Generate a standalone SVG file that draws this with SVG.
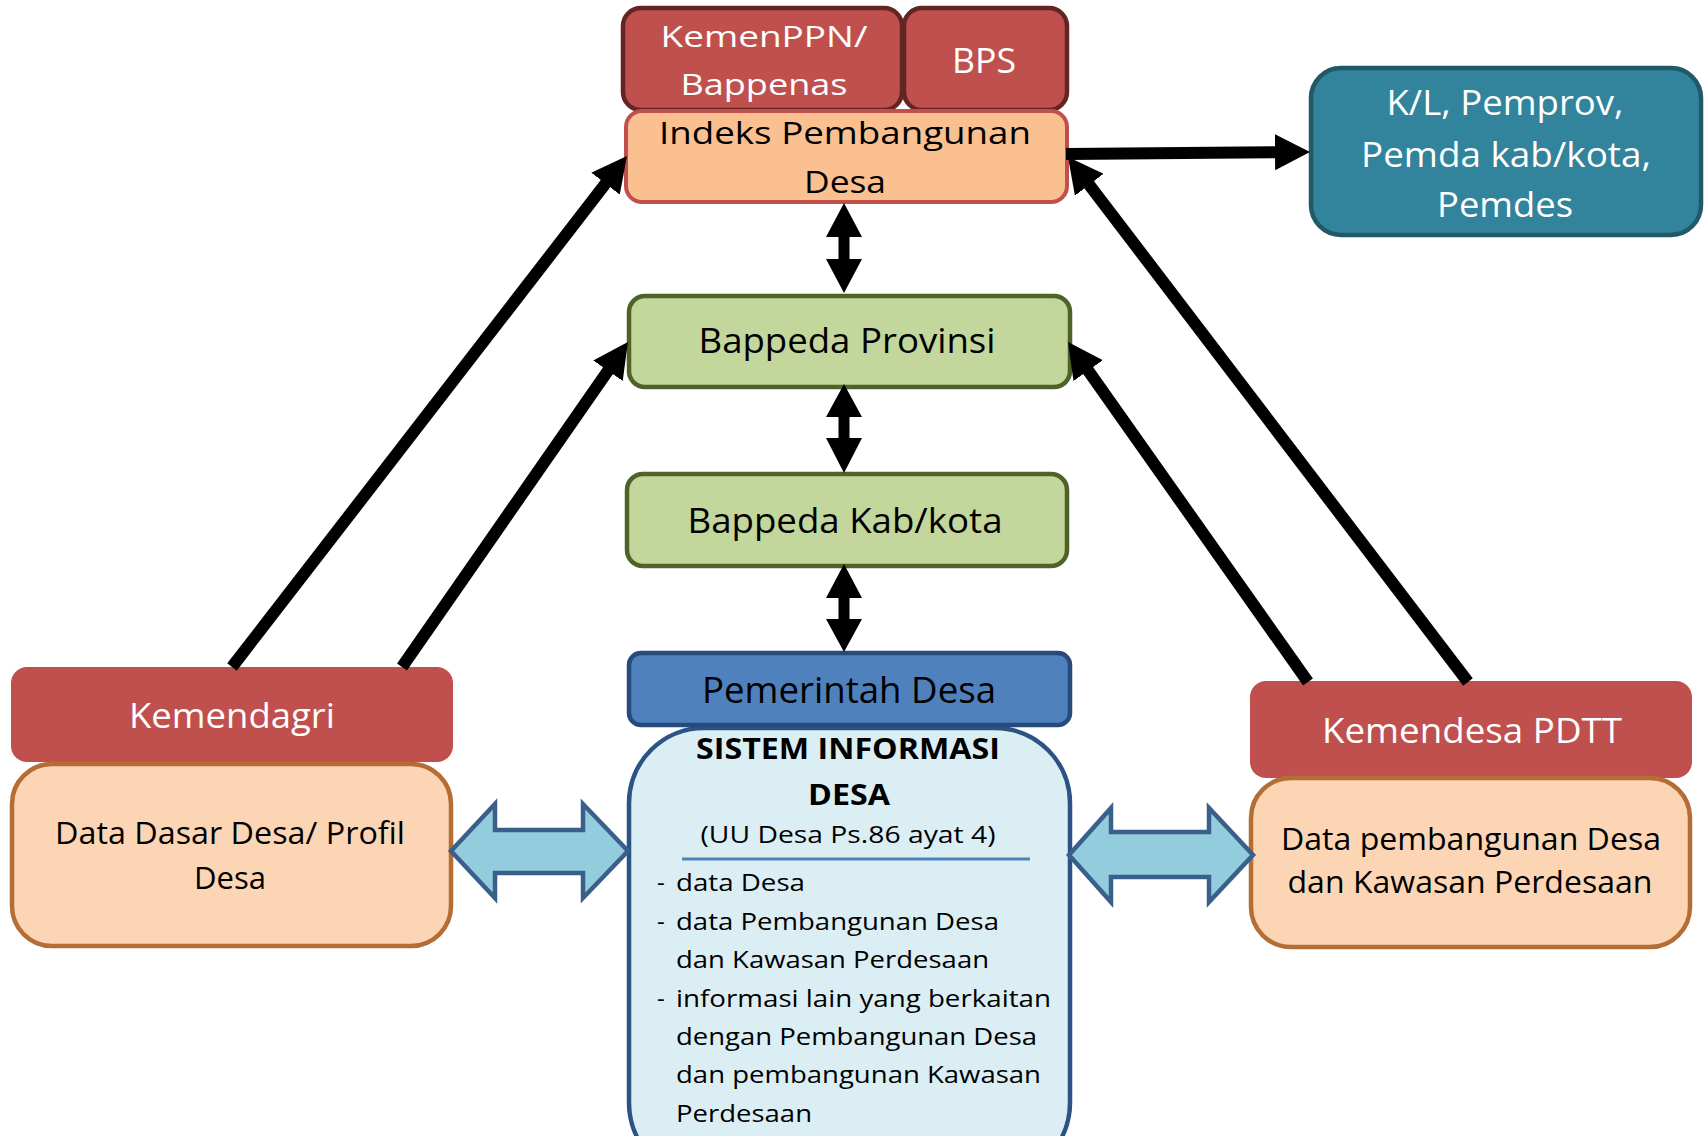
<svg xmlns="http://www.w3.org/2000/svg" width="1704" height="1136" viewBox="0 0 1704 1136">
<style>
text{font-family:"Open Sans","Noto Sans","DejaVu Sans",sans-serif;text-anchor:middle;fill:#000}
.w{fill:#fff}
.l{text-anchor:start}
.red{fill:#C0504D}
.redd{fill:#C0504D;stroke:#632523;stroke-width:4.5}
.peach{fill:#FAC090;stroke:#C0504D;stroke-width:4}
.green{fill:#C3D69B;stroke:#4F6228;stroke-width:4.5}
.teal{fill:#31849B;stroke:#215968;stroke-width:4.5}
.blue{fill:#4F81BD;stroke:#254A7B;stroke-width:4.5}
.sid{fill:#DBEEF4;stroke:#2C5286;stroke-width:4.5}
.tan{fill:#FCD5B5;stroke:#B46D34;stroke-width:4.5}
.conn{stroke:#000;stroke-width:12;fill:none;marker-end:url(#ah)}
.dbl{fill:#000}
.blk{fill:#93CDDD;stroke:#3A5F8B;stroke-width:4.5;stroke-linejoin:miter}
</style>
<defs>
<marker id="ah" markerUnits="userSpaceOnUse" markerWidth="36" markerHeight="36" refX="5" refY="18" orient="auto" viewBox="0 0 36 36">
<path d="M0,0 L35,18 L0,36 z" fill="#000"/>
</marker>
</defs>
<rect width="1704" height="1136" fill="#fff"/>

<g id="node-kemenppn"><rect class="redd" x="623" y="8" width="279" height="102" rx="18"/>
<text class="w" x="764" y="47" font-size="30" textLength="207" lengthAdjust="spacingAndGlyphs">KemenPPN/</text>
<text class="w" x="764" y="95" font-size="30" textLength="167" lengthAdjust="spacingAndGlyphs">Bappenas</text></g>
<g id="node-bps"><rect class="redd" x="904" y="8" width="163" height="102" rx="18"/>
<text class="w" x="984" y="73" font-size="35" textLength="64" lengthAdjust="spacingAndGlyphs">BPS</text></g>
<g id="node-indeks"><rect class="peach" x="626" y="111" width="441" height="91" rx="16"/>
<text x="845" y="144" font-size="31" textLength="372" lengthAdjust="spacingAndGlyphs">Indeks Pembangunan</text>
<text x="845" y="193" font-size="31" textLength="82" lengthAdjust="spacingAndGlyphs">Desa</text></g>
<g id="node-kl"><rect class="teal" x="1311" y="68" width="390" height="167" rx="30"/>
<text class="w" x="1505" y="115" font-size="35" textLength="237" lengthAdjust="spacingAndGlyphs">K/L, Pemprov,</text>
<text class="w" x="1506" y="167" font-size="35" textLength="290" lengthAdjust="spacingAndGlyphs">Pemda kab/kota,</text>
<text class="w" x="1505" y="217" font-size="35" textLength="136" lengthAdjust="spacingAndGlyphs">Pemdes</text></g>
<g id="node-bappeda-prov"><rect class="green" x="629" y="296" width="441" height="91" rx="16"/>
<text x="847" y="353" font-size="34" textLength="297" lengthAdjust="spacingAndGlyphs">Bappeda Provinsi</text></g>
<g id="node-bappeda-kab"><rect class="green" x="627" y="474" width="440" height="92" rx="16"/>
<text x="845" y="533" font-size="35" textLength="315" lengthAdjust="spacingAndGlyphs">Bappeda Kab/kota</text></g>
<g id="node-sid"><rect class="sid" x="629" y="728" width="441" height="450" rx="75"/>
<text x="848" y="759" font-size="29" font-weight="bold" textLength="304" lengthAdjust="spacingAndGlyphs">SISTEM INFORMASI</text>
<text x="849" y="805" font-size="29" font-weight="bold" textLength="82" lengthAdjust="spacingAndGlyphs">DESA</text>
<text x="848" y="843" font-size="23.5" textLength="295" lengthAdjust="spacingAndGlyphs">(UU Desa Ps.86 ayat 4)</text>
<line x1="682" y1="859" x2="1030" y2="859" stroke="#4F81BD" stroke-width="3"/>
<text class="l" x="657" y="891" font-size="24">-</text>
<text class="l" x="676" y="891" font-size="24" textLength="129" lengthAdjust="spacingAndGlyphs">data Desa</text>
<text class="l" x="657" y="930" font-size="24">-</text>
<text class="l" x="676" y="930" font-size="24" textLength="323" lengthAdjust="spacingAndGlyphs">data Pembangunan Desa</text>
<text class="l" x="676" y="968" font-size="24" textLength="313" lengthAdjust="spacingAndGlyphs">dan Kawasan Perdesaan</text>
<text class="l" x="657" y="1007" font-size="24">-</text>
<text class="l" x="676" y="1007" font-size="24" textLength="375" lengthAdjust="spacingAndGlyphs">informasi lain yang berkaitan</text>
<text class="l" x="676" y="1045" font-size="24" textLength="361" lengthAdjust="spacingAndGlyphs">dengan Pembangunan Desa</text>
<text class="l" x="676" y="1083" font-size="24" textLength="365" lengthAdjust="spacingAndGlyphs">dan pembangunan Kawasan</text>
<text class="l" x="676" y="1122" font-size="24" textLength="136" lengthAdjust="spacingAndGlyphs">Perdesaan</text></g>
<g id="node-pemdes"><rect class="blue" x="629" y="653" width="441" height="72" rx="12"/>
<text x="849" y="703" font-size="36" textLength="294" lengthAdjust="spacingAndGlyphs">Pemerintah Desa</text></g>
<g id="node-kemendagri"><rect class="red" x="11" y="667" width="442" height="95" rx="16"/>
<text class="w" x="232" y="728" font-size="35" textLength="206" lengthAdjust="spacingAndGlyphs">Kemendagri</text></g>
<g id="node-datadasar"><rect class="tan" x="12" y="764" width="439" height="182" rx="40"/>
<text x="230" y="844" font-size="31.5" textLength="350" lengthAdjust="spacingAndGlyphs">Data Dasar Desa/ Profil</text>
<text x="230" y="889" font-size="31.5" textLength="72" lengthAdjust="spacingAndGlyphs">Desa</text></g>
<g id="node-kemendesa"><rect class="red" x="1250" y="681" width="442" height="97" rx="16"/>
<text class="w" x="1472" y="743" font-size="35" textLength="300" lengthAdjust="spacingAndGlyphs">Kemendesa PDTT</text></g>
<g id="node-datapemb"><rect class="tan" x="1251" y="778" width="439" height="169" rx="40"/>
<text x="1471" y="850" font-size="30.5" textLength="380" lengthAdjust="spacingAndGlyphs">Data pembangunan Desa</text>
<text x="1470" y="893" font-size="30.5" textLength="365" lengthAdjust="spacingAndGlyphs">dan Kawasan Perdesaan</text></g>

<g id="connectors">
<line class="conn" x1="232" y1="667" x2="608.6" y2="179.7"/>
<line class="conn" x1="402" y1="667" x2="610.8" y2="366.6"/>
<line class="conn" x1="1308" y1="682" x2="1085.3" y2="366.5"/>
<line class="conn" x1="1468" y1="682" x2="1086.2" y2="180.8"/>
<line class="conn" x1="1066" y1="154" x2="1280" y2="152.2"/>
<polygon class="dbl" points="844,203 862,237 849.5,237 849.5,259 862,259 844,293 826,259 838.5,259 838.5,237 826,237"/>
<polygon class="dbl" points="844,384 862,417 849.5,417 849.5,438 862,438 844,473 826,438 838.5,438 838.5,417 826,417"/>
<polygon class="dbl" points="844,564 862,598 849.5,598 849.5,619 862,619 844,652 826,619 838.5,619 838.5,598 826,598"/>
<polygon class="blk" points="451,851 495,804 495,830 583,830 583,804 628,851 583,898 583,873 495,873 495,898"/>
<polygon class="blk" points="1069,855 1111,808 1111,832 1209,832 1209,808 1253,855 1209,902 1209,877 1111,877 1111,902"/>
</g>
</svg>
